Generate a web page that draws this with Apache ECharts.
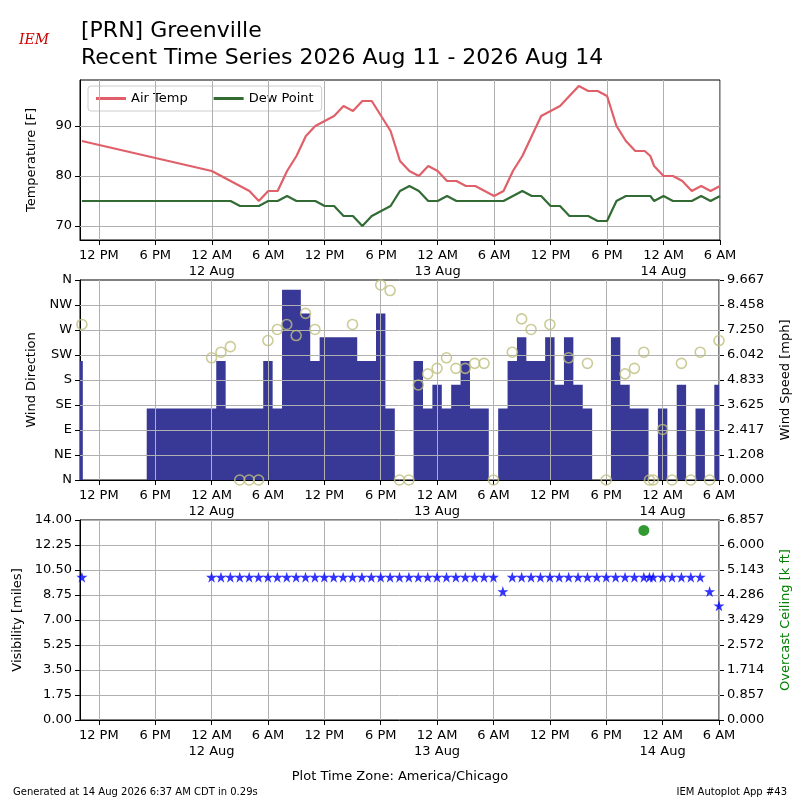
<!DOCTYPE html>
<html>
<head>
<meta charset="utf-8">
<script src="https://cdn.jsdelivr.net/npm/echarts@6/dist/echarts.min.js"></script>
<style>
  html, body { margin: 0; padding: 0; background: #fff; }
  #chart { width: 800px; height: 800px; }
</style>
</head>
<body>
<div id="chart"></div>
<script>
// hours since 11 Aug 00:00 local
var obsHours = [10.2, 24, 25, 26, 27, 28, 29, 30, 31, 32, 33, 34, 35, 36, 37, 38, 39, 40, 41, 42, 43, 44, 45, 46, 47,
    48, 49, 50, 51, 52, 53, 54, 55, 56, 57, 58, 59, 60, 61, 62, 63, 64, 65, 66, 67, 68, 69, 70, 70.6, 71, 72, 73, 74, 75, 76, 77, 78];
var airTemp = [87, 81, 80, 79, 78, 77, 75, 77, 77, 81, 84, 88, 90, 91, 92, 94, 93, 95, 95, 92, 89, 83, 81, 80, 82,
    81, 79, 79, 78, 78, 77, 76, 77, 81, 84, 88, 92, 93, 94, 96, 98, 97, 97, 96, 90, 87, 85, 85, 84, 82, 80, 80, 79, 77, 78, 77, 78];
var dewPoint = [75, 75, 75, 75, 74, 74, 74, 75, 75, 76, 75, 75, 75, 74, 74, 72, 72, 70, 72, 73, 74, 77, 78, 77, 75,
    75, 76, 75, 75, 75, 75, 75, 75, 76, 77, 76, 76, 74, 74, 72, 72, 72, 71, 71, 75, 76, 76, 76, 76, 75, 76, 75, 75, 75, 76, 75, 76];

var windEdges = [10, 10.3, 17.1, 24.5, 25.5, 29.5, 30.5, 31.5, 33.5, 34.5, 35.5, 39.5, 41.5, 42.5, 43.5, 45.5, 46.5, 47.5, 48.5, 49.5,
    50.5, 51.5, 53.5, 54.5, 55.5, 56.5, 57.5, 59.5, 60.5, 61.5, 62.5, 63.5, 64.5, 66.5, 67.5, 68.5, 70.5, 71.5, 72.5, 73.5,
    74.5, 75.5, 76.5, 77.5, 78];
var windSpeed = [5.75, 0, 3.45, 5.75, 3.45, 5.75, 3.45, 9.2, 8.05, 5.75, 6.9, 5.75, 8.05, 3.45, 0, 5.75, 3.45, 4.6, 3.45, 4.6,
    5.75, 3.45, 0, 3.45, 5.75, 6.9, 5.75, 6.9, 4.6, 6.9, 4.6, 3.45, 0, 6.9, 4.6, 3.45, 0, 3.45, 0, 4.6,
    0, 3.45, 0, 4.6, 4.6];

var dirHours = [10.2, 24, 25, 26, 27, 28, 29, 30, 31, 32, 33, 34, 35, 39, 42, 43, 44, 45, 46, 47, 48, 49, 50, 51, 52, 53, 54,
    56, 57, 58, 60, 62, 64, 66, 68, 69, 70, 70.6, 71, 72, 73, 74, 75, 76, 77, 78];
var dirVals = [280, 220, 230, 240, 0, 0, 0, 251, 271, 280, 260, 300, 271, 280, 351, 341, 0, 0, 171, 191, 201, 220, 201, 201, 210, 210, 0,
    230, 290, 271, 280, 220, 210, 0, 191, 201, 230, 0, 0, 91, 0, 210, 0, 230, 0, 251];

var visHours = [10.2, 24, 25, 26, 27, 28, 29, 30, 31, 32, 33, 34, 35, 36, 37, 38, 39, 40, 41, 42, 43, 44, 45, 46, 47, 48, 49, 50,
    51, 52, 53, 54, 55, 56, 57, 58, 59, 60, 61, 62, 63, 64, 65, 66, 67, 68, 69, 70, 70.6, 71, 72, 73, 74, 75, 76, 77, 78];
var visVals = [10, 10, 10, 10, 10, 10, 10, 10, 10, 10, 10, 10, 10, 10, 10, 10, 10, 10, 10, 10, 10, 10, 10, 10, 10, 10, 10, 10,
    10, 10, 10, 10, 9, 10, 10, 10, 10, 10, 10, 10, 10, 10, 10, 10, 10, 10, 10, 10, 10, 10, 10, 10, 10, 10, 10, 9, 8];
var ceilHours = [70];
var ceilVals = [6.5];

var timeTicks = [12, 18, 24, 30, 36, 42, 48, 54, 60, 66, 72, 78];
var tempTicks = [70, 80, 90];
var dirTicks = [45, 90, 135, 180, 225, 270, 315];
var dirLabels = ['N', 'NE', 'E', 'SE', 'S', 'SW', 'W', 'NW', 'N'];
var speedLabels = ['0.000', '1.208', '2.417', '3.625', '4.833', '6.042', '7.250', '8.458', '9.667'];
var visLabels = ['0.00', '1.75', '3.50', '5.25', '7.00', '8.75', '10.50', '12.25', '14.00'];
var ceilLabels = ['0.000', '0.857', '1.714', '2.572', '3.429', '4.286', '5.143', '6.000', '6.857'];

var FONT = 'DejaVu Sans';
var grids = [
    { left: 80, right: 80, top: 80, height: 160 },
    { left: 80, right: 80, top: 280, height: 200 },
    { left: 80, right: 80, top: 520, height: 200 }
];
grids.forEach(function (g) { g.show = true; g.borderColor = '#000'; g.borderWidth = 1; g.containLabel = false; });

function pairs(xs, ys) { return xs.map(function (x, i) { return [x, ys[i]]; }); }

function timeLabel(v) {
    var hr = Math.round(v) % 24;
    if (hr === 0) return '12 AM\n' + (11 + Math.round(v) / 24) + ' Aug';
    if (hr === 12) return '12 PM';
    if (hr < 12) return hr + ' AM';
    return (hr - 12) + ' PM';
}

function xAxisFor(i) {
    return {
        type: 'value', gridIndex: i, min: 10, max: 78,
        axisLine: { onZero: false, lineStyle: { color: '#000' } },
        axisTick: { customValues: timeTicks, length: 5, lineStyle: { color: '#000' } },
        axisLabel: { customValues: timeTicks, formatter: timeLabel, color: '#000', fontFamily: FONT, fontSize: 13, lineHeight: 16 },
        splitLine: { show: false }
    };
}

// grid lines drawn on top of the marks, like the reference
function gridLines(xi, yi, yTicks) {
    var d = timeTicks.map(function (t) { return { xAxis: t }; });
    (yTicks || []).forEach(function (t) { d.push({ yAxis: t }); });
    return {
        type: 'line', xAxisIndex: xi, yAxisIndex: yi, data: [], silent: true, z: 5,
        markLine: {
            silent: true, symbol: 'none', label: { show: false }, z: 5,
            lineStyle: { color: '#b0b0b0', type: 'solid', width: 1 },
            data: d
        }
    };
}

var leftName = { color: '#000', fontFamily: FONT, fontSize: 13 };

var option = {
    animation: false,
    textStyle: { fontFamily: FONT },
    title: [
        { text: '[PRN] Greenville', left: 76, top: 15, textStyle: { fontFamily: FONT, fontSize: 22, fontWeight: 'normal', color: '#000' } },
        { text: 'Recent Time Series 2026 Aug 11 - 2026 Aug 14', left: 76, top: 42, textStyle: { fontFamily: FONT, fontSize: 22, fontWeight: 'normal', color: '#000' } },
        { text: 'IEM', left: 14, top: 28, textStyle: { fontFamily: 'DejaVu Serif', fontSize: 14, fontStyle: 'italic', fontWeight: 'normal', color: '#cc0000' } },
        { text: 'Plot Time Zone: America/Chicago', left: 'center', top: 765, textStyle: { fontFamily: FONT, fontSize: 13, fontWeight: 'normal', color: '#000' } },
        { text: 'Generated at 14 Aug 2026 6:37 AM CDT in 0.29s', left: 8, top: 782, textStyle: { fontFamily: FONT, fontSize: 10, fontWeight: 'normal', color: '#000' } },
        { text: 'IEM Autoplot App #43', right: 8, top: 782, textStyle: { fontFamily: FONT, fontSize: 10, fontWeight: 'normal', color: '#000' } }
    ],
    legend: {
        left: 88, top: 86, orient: 'horizontal', itemGap: 26, itemWidth: 30, itemHeight: 3,
        backgroundColor: 'rgba(255,255,255,0.8)', borderColor: '#ccc', borderWidth: 1, borderRadius: 3, padding: [6, 8],
        textStyle: { fontFamily: FONT, fontSize: 13, color: '#000' },
        data: [{ name: 'Air Temp', icon: 'rect' }, { name: 'Dew Point', icon: 'rect' }]
    },
    grid: grids,
    xAxis: [xAxisFor(0), xAxisFor(1), xAxisFor(2)],
    yAxis: [
        {
            type: 'value', gridIndex: 0, min: 67.2, max: 99.2, name: 'Temperature [F]', nameLocation: 'middle', nameGap: 42, nameTextStyle: leftName,
            axisLine: { show: true, lineStyle: { color: '#000' } },
            axisTick: { show: true, customValues: tempTicks, lineStyle: { color: '#000' } },
            axisLabel: { customValues: tempTicks, color: '#000', fontSize: 13 },
            splitLine: { show: false }
        },
        {
            type: 'value', gridIndex: 1, min: 0, max: 360, interval: 45, name: 'Wind Direction', nameLocation: 'middle', nameGap: 38, nameTextStyle: leftName,
            axisLine: { show: true, lineStyle: { color: '#000' } },
            axisTick: { show: true, lineStyle: { color: '#000' } },
            axisLabel: { color: '#000', fontSize: 13, formatter: function (v) { return dirLabels[Math.round(v / 45)]; } },
            splitLine: { show: false }
        },
        {
            type: 'value', gridIndex: 1, position: 'right', min: 0, max: 9.667, interval: 9.667 / 8, name: 'Wind Speed [mph]', nameLocation: 'middle', nameGap: 60, nameRotate: 90, nameTextStyle: leftName,
            axisLine: { show: true, lineStyle: { color: '#000' } },
            axisTick: { show: true, lineStyle: { color: '#000' } },
            axisLabel: { color: '#000', fontSize: 13, formatter: function (v) { return speedLabels[Math.round(v / (9.667 / 8))]; } },
            splitLine: { show: false }
        },
        {
            type: 'value', gridIndex: 2, min: 0, max: 14, interval: 1.75, name: 'Visibility [miles]', nameLocation: 'middle', nameGap: 56, nameTextStyle: leftName,
            axisLine: { show: true, lineStyle: { color: '#000' } },
            axisTick: { show: true, lineStyle: { color: '#000' } },
            axisLabel: { color: '#000', fontSize: 13, formatter: function (v) { return visLabels[Math.round(v / 1.75)]; } },
            splitLine: { show: true, lineStyle: { color: '#b0b0b0', width: 1 } }
        },
        {
            type: 'value', gridIndex: 2, position: 'right', min: 0, max: 6.857, interval: 6.857 / 8, name: 'Overcast Ceiling [k ft]', nameLocation: 'middle', nameGap: 60, nameRotate: 90,
            nameTextStyle: { color: '#008000', fontFamily: FONT, fontSize: 13 },
            axisLine: { show: true, lineStyle: { color: '#000' } },
            axisTick: { show: true, lineStyle: { color: '#000' } },
            axisLabel: { color: '#000', fontSize: 13, formatter: function (v) { return ceilLabels[Math.round(v / (6.857 / 8))]; } },
            splitLine: { show: false }
        }
    ],
    series: [
        gridLines(0, 0, tempTicks), gridLines(1, 1, dirTicks), gridLines(2, 3, []),
        {
            name: 'Air Temp', type: 'line', xAxisIndex: 0, yAxisIndex: 0, showSymbol: false, symbol: 'none', z: 6,
            itemStyle: { color: '#e0606a' }, lineStyle: { color: '#e0606a', width: 2.2 },
            data: pairs(obsHours, airTemp)
        },
        {
            name: 'Dew Point', type: 'line', xAxisIndex: 0, yAxisIndex: 0, showSymbol: false, symbol: 'none', z: 6,
            itemStyle: { color: '#336b35' }, lineStyle: { color: '#336b35', width: 2.2 },
            data: pairs(obsHours, dewPoint)
        },
        {
            name: 'Wind Speed', type: 'line', xAxisIndex: 1, yAxisIndex: 2, step: 'end', symbol: 'none', z: 2,
            lineStyle: { width: 0 }, areaStyle: { color: '#383896', opacity: 1 },
            data: pairs(windEdges, windSpeed)
        },
        {
            name: 'Wind Dir', type: 'scatter', xAxisIndex: 1, yAxisIndex: 1, symbol: 'circle', symbolSize: 10, z: 7,
            itemStyle: { color: 'rgba(0,0,0,0)', borderColor: '#bfbf80', borderWidth: 1.6 },
            data: pairs(dirHours, dirVals)
        },
        {
            name: 'Visibility', type: 'scatter', xAxisIndex: 2, yAxisIndex: 3, z: 7,
            symbol: 'path://M50,0 L61,35 L98,35 L68,57 L79,91 L50,70 L21,91 L32,57 L2,35 L39,35 Z', symbolSize: 11,
            itemStyle: { color: '#0000ff' },
            data: pairs(visHours, visVals)
        },
        {
            name: 'Ceiling', type: 'scatter', xAxisIndex: 2, yAxisIndex: 4, symbol: 'circle', symbolSize: 11, z: 7,
            itemStyle: { color: '#008000' },
            data: pairs(ceilHours, ceilVals)
        }
    ]
};

var chart = echarts.init(document.getElementById('chart'), null, { renderer: 'canvas' });
chart.setOption(option);
</script>
</body>
</html>
